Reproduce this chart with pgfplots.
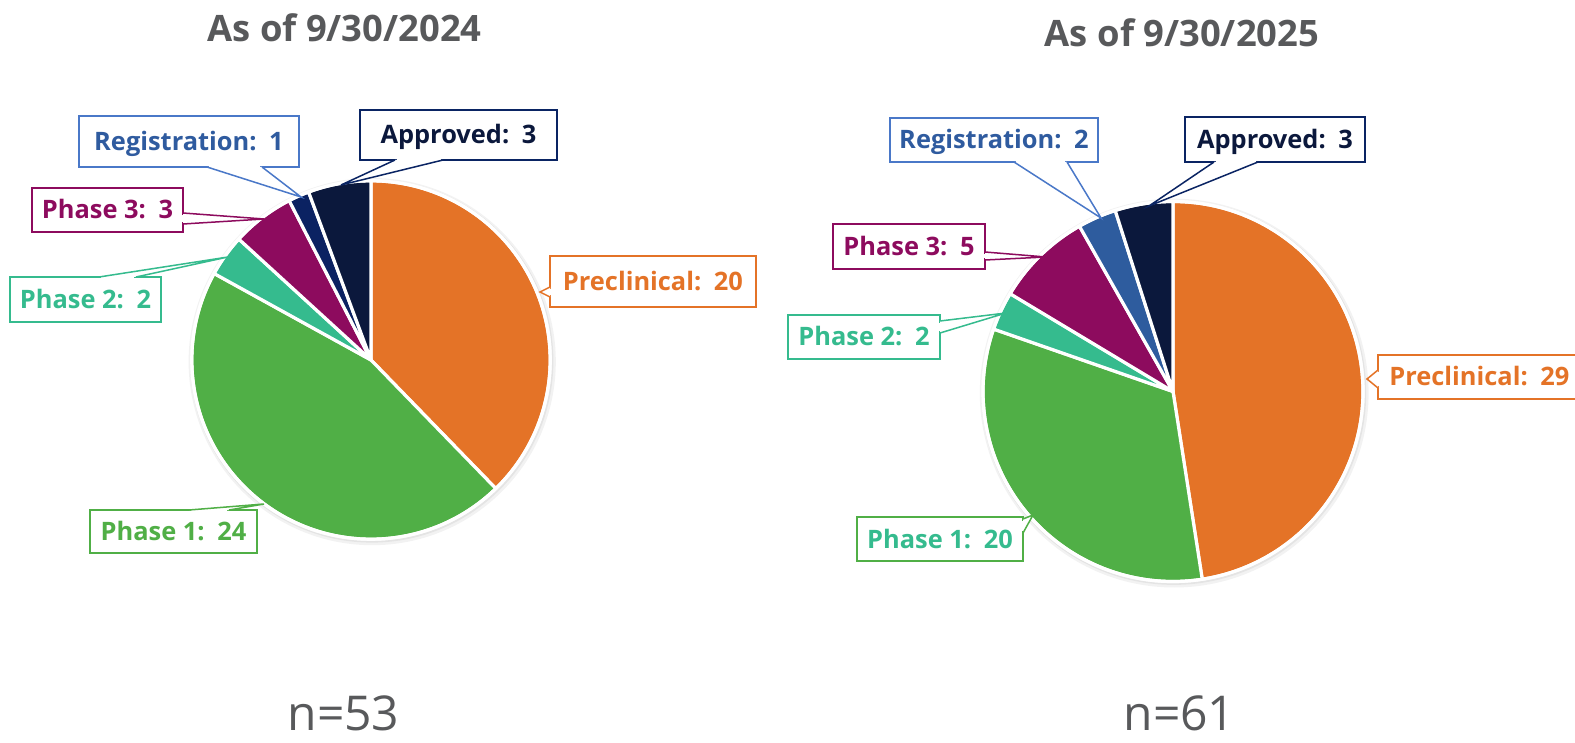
\documentclass[border=0pt]{standalone}
\usepackage{pgfplots}
\pgfplotsset{compat=1.18}
\usepackage{pgfplotstable}
\usepackage{fontspec}
\setmainfont{Open Sans}

\definecolor{cPre}{HTML}{E47327}
\definecolor{cP1}{HTML}{50AF46}
\definecolor{cP2}{HTML}{35BB8E}
\definecolor{cP3}{HTML}{8D0B5E}
\definecolor{cRegA}{HTML}{0B2262}
\definecolor{cRegB}{HTML}{2E5C9E}
\definecolor{cApp}{HTML}{0B183C}
\definecolor{cRegTxt}{HTML}{2F5B9F}
\definecolor{cRegBrd}{HTML}{4A78C8}
\definecolor{cAppBrd}{HTML}{0A2463}
\definecolor{cGray}{HTML}{58595B}

% wedge colours, in table order
\colorlet{pA0}{cPre}\colorlet{pA1}{cP1}\colorlet{pA2}{cP2}\colorlet{pA3}{cP3}\colorlet{pA4}{cRegA}\colorlet{pA5}{cApp}
\colorlet{pB0}{cPre}\colorlet{pB1}{cP1}\colorlet{pB2}{cP2}\colorlet{pB3}{cP3}\colorlet{pB4}{cRegB}\colorlet{pB5}{cApp}

\pgfplotstableread[col sep=comma]{
stage,vA,vB
Preclinical,20,29
Phase 1,24,20
Phase 2,2,2
Phase 3,3,5
Registration,1,2
Approved,3,3
}\piedata

% cumulative angles, clockwise from 12 o'clock
\newcommand\computeangles[1]{%
  \gdef\tot{0}%
  \foreach \i in {0,...,5}{%
    \pgfplotstablegetelem{\i}{#1}\of\piedata
    \pgfmathsetmacro\tmp{\tot+\pgfplotsretval}%
    \xdef\tot{\tmp}}%
  \gdef\cur{90}%
  \foreach \i in {0,...,5}{%
    \pgfplotstablegetelem{\i}{#1}\of\piedata
    \pgfmathsetmacro\tmp{\cur-360*\pgfplotsretval/\tot}%
    \expandafter\xdef\csname #1s\i\endcsname{\cur}%
    \expandafter\xdef\csname #1e\i\endcsname{\tmp}%
    \xdef\cur{\tmp}}%
}
\computeangles{vA}
\computeangles{vB}

% #1 column, #2 cx, #3 cy (axis units), #4 radius, #5 colour prefix
\newcommand\drawpie[5]{%
  \fill[black, opacity=0.05] (axis cs:#2,#3) ++(0.6pt,-0.8pt) circle[radius=#4+2.2pt];
  \fill[black, opacity=0.06] (axis cs:#2,#3) ++(0.4pt,-0.5pt) circle[radius=#4+1.2pt];
  \pgfplotsinvokeforeach{0,...,5}{%
    \filldraw[fill=#5##1, draw=white, line width=1.6pt, line join=round]
      (axis cs:#2,#3) -- ++(\csname #1s##1\endcsname:#4)
      arc[start angle=\csname #1s##1\endcsname, end angle=\csname #1e##1\endcsname, radius=#4] -- cycle;
  }%
  \draw[white, line width=1.6pt] (axis cs:#2,#3) circle[radius=#4];
}

\newcommand\lblfont{\fontsize{12.7}{15}\selectfont\bfseries}
\newcommand\sep{\hspace{0.5em}}
% #1 border, #2 text colour, #3 x1, #4 y1, #5 x2, #6 y2, #7 text
\newcommand\lbox[7]{%
  \filldraw[draw=#1, fill=white, line width=0.9pt] (axis cs:#3,#4) rectangle (axis cs:#5,#6);
  \path (axis cs:#3,#4) -- (axis cs:#5,#6) node[midway, text=#2, font=\lblfont, inner sep=0pt, text height=9pt, text depth=0pt] {#7};
}
% #1 colour, #2 base 1, #3 tip, #4 base 2
\newcommand\lptr[4]{%
  \fill[white] (axis cs:#2) -- (axis cs:#3) -- (axis cs:#4) -- cycle;
  \draw[white, line width=1.4pt, shorten <=0.8pt, shorten >=0.8pt] (axis cs:#2) -- (axis cs:#4);
  \draw[#1, line width=0.75pt, line join=miter] (axis cs:#2) -- (axis cs:#3) -- (axis cs:#4);
}

\begin{document}
\begin{tikzpicture}
\useasboundingbox (0,0) rectangle (787.5pt,371.5pt);
\clip (0,0) rectangle (787.5pt,371.5pt);
\begin{axis}[hide axis, x=0.5pt, y=0.5pt, xmin=0, xmax=1575, ymin=0, ymax=743,
  y dir=reverse, anchor=south west, at={(0,0)}, clip=false]

% titles
\node[anchor=base, font=\fontsize{18.2}{21}\selectfont\bfseries, text=cGray] at (axis cs:344.5,42) {As of 9/30/2024};
\node[anchor=base, font=\fontsize{18.2}{21}\selectfont\bfseries, text=cGray] at (axis cs:1182,47) {As of 9/30/2025};

% pies
\drawpie{vA}{371}{360}{89.6pt}{pA}
\drawpie{vB}{1173}{391.5}{95pt}{pB}

% left labels
\lbox{cRegBrd}{cRegTxt}{79}{116}{299}{167}{Registration:\sep 1}
\lptr{cRegBrd}{207,167}{301,197}{262,167}
\lbox{cAppBrd}{cApp}{360}{110}{557}{160}{Approved:\sep 3}
\lptr{cAppBrd}{395,160}{341,185}{443,160}
\lbox{cP3}{cP3}{32}{188}{183}{232}{Phase 3:\sep 3}
\lptr{cP3}{183,213}{264,219}{183,224}
\lbox{cP2}{cP2}{10}{277}{161}{322}{Phase 2:\sep 2}
\lptr{cP2}{99,277}{228,257}{136,277}
\lbox{cP1}{cP1}{90}{510}{257}{553}{Phase 1:\sep 24}
\lptr{cP1}{189,510}{264,504}{229,510}
\lbox{cPre}{cPre}{550}{256}{756}{307}{Preclinical:\sep 20}
\lptr{cPre}{550,287}{540,292}{550,297}

% right labels
\lbox{cRegBrd}{cRegTxt}{890}{118}{1098}{162}{Registration:\sep 2}
\lptr{cRegBrd}{1014,162}{1101,218}{1067,162}
\lbox{cAppBrd}{cApp}{1185}{117}{1365}{162}{Approved:\sep 3}
\lptr{cAppBrd}{1214,162}{1149,206}{1258,162}
\lbox{cP3}{cP3}{833}{224}{985}{269}{Phase 3:\sep 5}
\lptr{cP3}{985,252}{1046,257}{985,260}
\lbox{cP2}{cP2}{788}{315}{940}{359}{Phase 2:\sep 2}
\lptr{cP2}{940,321}{1006,313}{940,333}
\lbox{cP1}{cP2}{857}{517}{1023}{561}{Phase 1:\sep 20}
\lptr{cP1}{1023,519}{1033,515}{1023,533}
\filldraw[draw=cPre, fill=white, line width=0.9pt] (axis cs:1378,355) rectangle (axis cs:1600,399);
\node[anchor=west, text=cPre, font=\lblfont, inner sep=0pt, text height=9pt, text depth=0pt] at (axis cs:1389,377) {Preclinical:\sep 29};
\lptr{cPre}{1378,370}{1367,379}{1378,388}

% n
\node[anchor=base, font=\fontsize{24}{27}\selectfont, text=cGray] at (axis cs:343.5,730) {n=53};
\node[anchor=base, font=\fontsize{24}{27}\selectfont, text=cGray] at (axis cs:1179.5,730) {n=61};
\end{axis}
\end{tikzpicture}
\end{document}
